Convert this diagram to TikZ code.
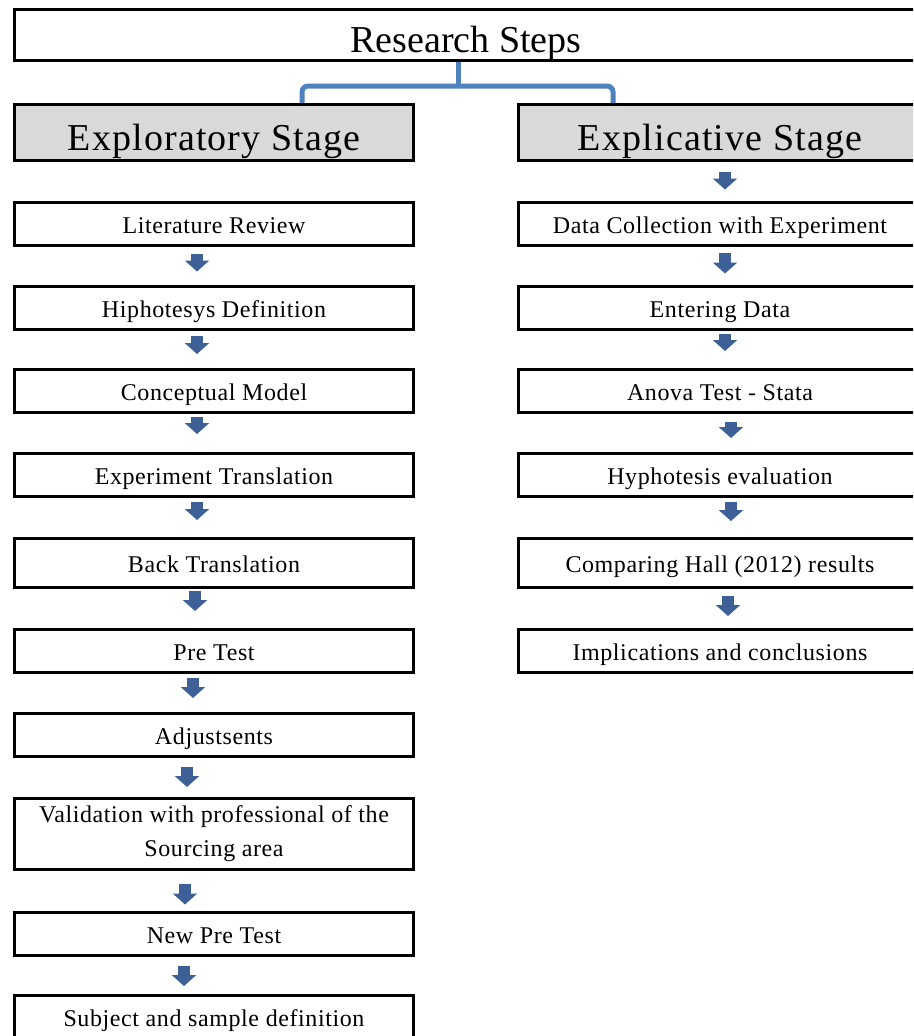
\documentclass[tikz,border=0pt]{standalone}
\usepackage{fontspec}
\setmainfont{Liberation Serif}
\newfontfamily\boxfont{Liberation Serif}[LetterSpace=2.5]
\newfontfamily\stagefont{Liberation Serif}[LetterSpace=3]
\usetikzlibrary{arrows.meta}
\definecolor{arrowblue}{HTML}{3D6096}
\definecolor{braceblue}{HTML}{4F81BD}
\definecolor{stagegray}{HTML}{D9D9D9}

\begin{document}
\begin{tikzpicture}[x=1pt,y=-1pt,
    stepbox/.style={draw, line width=3pt, minimum width=399pt, minimum height=43pt, inner sep=0pt,
        font=\boxfont\fontsize{24}{34}\selectfont, align=center, text height=24pt, text depth=5pt},
    stagebox/.style={draw, line width=3pt, fill=stagegray, minimum width=399pt, minimum height=56pt,
        inner sep=0pt, font=\stagefont\fontsize{38}{46}\selectfont, text height=40pt, text depth=5pt},
    blk/.style={arrowblue, line width=12.5pt, -{Triangle[width=24pt,length=11pt]}},
    bracket/.style={braceblue, line width=5pt}]
    \clip (0,0) rectangle (913,1036);

    % title and the two stages
    \node[draw, line width=3pt, minimum width=904pt, minimum height=51pt, inner sep=0pt,
        font=\fontsize{38}{46}\selectfont, text height=40pt, text depth=6pt] (title) at (466,35) {Research Steps};
    \node[stagebox] (explo) at (214,132.5) {Exploratory Stage};
    \node[stagebox, minimum width=403pt] (expli) at (720,132.5) {Explicative Stage};
    \draw[bracket, rounded corners=6] (302,103) |- (613,86) -- (613,103);
    \draw[bracket] (458,86) -- (458,62);

    % exploratory steps
    \node[stepbox] (lit) at (214,223.5) {Literature Review};
    \node[stepbox] (hip) at (214,307.5) {Hiphotesys Definition};
    \node[stepbox] (conc) at (214,391) {Conceptual Model};
    \node[stepbox] (expt) at (214,475) {Experiment Translation};
    \node[stepbox, minimum height=49pt] (back) at (214,563) {Back Translation};
    \node[stepbox] (pre) at (214,651) {Pre Test};
    \node[stepbox] (adj) at (214,735) {Adjustsents};
    \node[stepbox, minimum height=71pt, text height=, text depth=] (valid) at (214,834)
        {Validation with professional of the\\Sourcing area};
    \node[stepbox] (newpre) at (214,933.5) {New Pre Test};
    \node[stepbox] (subj) at (214,1017) {Subject and sample definition};

    % explicative steps
    \node[stepbox, minimum width=403pt] (data) at (720,223.5) {Data Collection with Experiment};
    \node[stepbox, minimum width=403pt] (enter) at (720,307.5) {Entering Data};
    \node[stepbox, minimum width=403pt] (anova) at (720,391) {Anova Test - Stata};
    \node[stepbox, minimum width=403pt] (hyph) at (720,475) {Hyphotesis evaluation};
    \node[stepbox, minimum width=403pt, minimum height=49pt] (comp) at (720,563) {Comparing Hall (2012) results};
    \node[stepbox, minimum width=403pt] (impl) at (720,651) {Implications and conclusions};

    % arrows left
    \draw[blk, shorten <=7, shorten >=13] ([xshift=-17]lit.south) -- ([xshift=-17]hip.north);
    \draw[blk, shorten <=5.5, shorten >=14] ([xshift=-17]hip.south) -- ([xshift=-17]conc.north);
    \draw[blk, shorten <=2.5, shorten >=18] ([xshift=-17]conc.south) -- ([xshift=-17]expt.north);
    \draw[blk, shorten <=3.5, shorten >=17] ([xshift=-17]expt.south) -- ([xshift=-17]back.north);
    \draw[blk, shorten <=2, shorten >=17] ([xshift=-19]back.south) -- ([xshift=-19]pre.north);
    \draw[blk, shorten <=3.5, shorten >=14] ([xshift=-21]pre.south) -- ([xshift=-21]adj.north);
    \draw[blk, shorten <=8.5, shorten >=10] ([xshift=-27]adj.south) -- ([xshift=-27]valid.north);
    \draw[blk, shorten <=12.5, shorten >=6] ([xshift=-29]valid.south) -- ([xshift=-29]newpre.north);
    \draw[blk, shorten <=9.5, shorten >=8] ([xshift=-30]newpre.south) -- ([xshift=-30]subj.north);

    % arrows right
    \draw[blk, shorten <=9.5, shorten >=11] ([xshift=5]expli.south) -- ([xshift=5]data.north);
    \draw[blk, shorten <=6.5, shorten >=11] ([xshift=5]data.south) -- ([xshift=5]enter.north);
    \draw[blk, shorten <=3.5, shorten >=17] ([xshift=5]enter.south) -- ([xshift=5]anova.north);
    \draw[blk, shorten <=7.5, shorten >=14] ([xshift=11]anova.south) -- ([xshift=11]hyph.north);
    \draw[blk, shorten <=3.5, shorten >=16] ([xshift=11]hyph.south) -- ([xshift=11]comp.north);
    \draw[blk, shorten <=6.5, shorten >=12] ([xshift=8]comp.south) -- ([xshift=8]impl.north);
\end{tikzpicture}
\end{document}
